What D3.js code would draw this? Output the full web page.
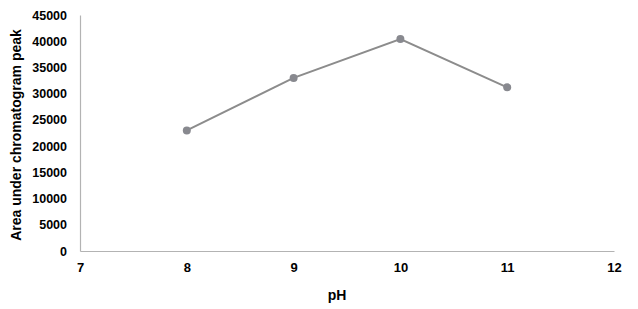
<!DOCTYPE html>
<html>
<head>
<meta charset="utf-8">
<script src="https://cdn.jsdelivr.net/npm/d3@7"></script>
<style>
html,body{margin:0;padding:0;background:#fff;}
svg{display:block;}
text{font-family:"Liberation Sans",Arial,sans-serif;font-weight:bold;fill:#000;}
</style>
</head>
<body>
<svg id="chart" width="638" height="309"></svg>
<script>
const phValues = [8, 9, 10, 11];
const areaValues = [23000, 33000, 40400, 31200];
const xTicks = [7, 8, 9, 10, 11, 12];
const yTicks = [0, 5000, 10000, 15000, 20000, 25000, 30000, 35000, 40000, 45000];

const svg = d3.select("#chart");
const x = d3.scaleLinear().domain([7, 12]).range([80, 614]);
const y = d3.scaleLinear().domain([0, 45000]).range([251, 15]);

const xAxis = d3.axisBottom(x).tickValues(xTicks).tickSize(0).tickPadding(12).tickFormat(d3.format("d"));
const gx = svg.append("g").attr("transform", `translate(0,${y(0)})`).call(xAxis);
gx.select(".domain").attr("stroke", "#b3b3b3").attr("stroke-width", 1.2);
gx.selectAll("text").style("font-size", "13px").style("font-family", "Liberation Sans, Arial, sans-serif").style("font-weight", "bold");

const yAxis = d3.axisLeft(y).tickValues(yTicks).tickSize(0).tickPadding(13).tickFormat(d3.format("d"));
const gy = svg.append("g").attr("transform", `translate(${x(7)},0)`).call(yAxis);
gy.select(".domain").attr("stroke", "#b3b3b3").attr("stroke-width", 1.2);
gy.selectAll("text").style("font-size", "12.5px").style("font-family", "Liberation Sans, Arial, sans-serif").style("font-weight", "bold");

const data = phValues.map((p, i) => ({p, v: areaValues[i]}));
svg.append("path").datum(data)
  .attr("fill", "none").attr("stroke", "#8c8c8c").attr("stroke-width", 2)
  .attr("d", d3.line().x(d => x(d.p)).y(d => y(d.v)));
svg.selectAll("circle.pt").data(data).enter().append("circle")
  .attr("class", "pt").attr("cx", d => x(d.p)).attr("cy", d => y(d.v)).attr("r", 4)
  .attr("fill", "#88898f");

svg.append("text").attr("x", 337).attr("y", 300).attr("text-anchor", "middle")
  .style("font-size", "14px").text("pH");
svg.append("text").attr("transform", "translate(21,135) rotate(-90)").attr("text-anchor", "middle")
  .style("font-size", "14px").text("Area under chromatogram peak");
</script>
</body>
</html>
